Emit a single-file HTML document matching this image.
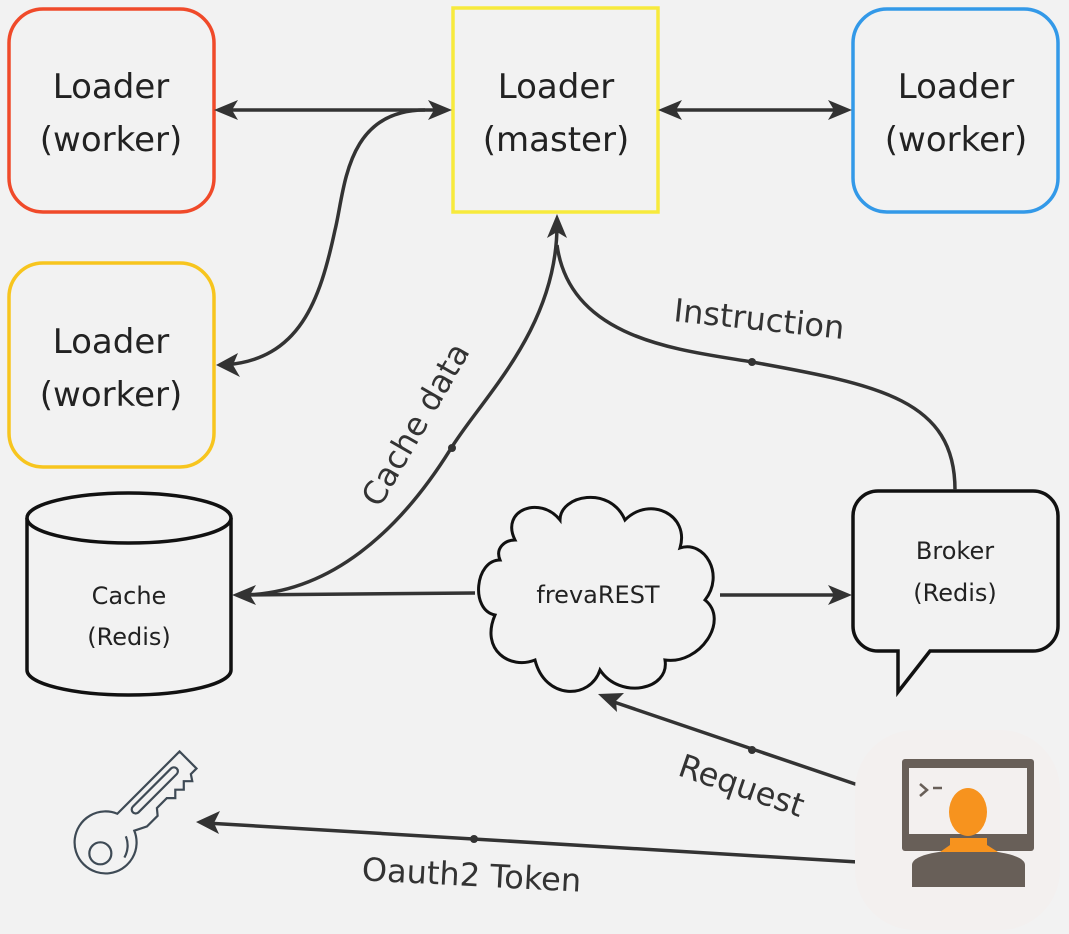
<!DOCTYPE html>
<html><head><meta charset="utf-8"><style>
html,body{margin:0;padding:0;background:#f2f2f2;}
svg{display:block;font-family:"DejaVu Sans","Liberation Sans",sans-serif;}
</style></head><body>
<svg width="1069" height="934" viewBox="0 0 1069 934" xmlns="http://www.w3.org/2000/svg">
<rect width="1069" height="934" fill="#f2f2f2"/>
<g fill="#f2f2f2" stroke-width="3.5">
<rect x="9" y="9" width="205" height="203" rx="34" stroke="#f04a2a"/>
<rect x="453" y="8" width="205" height="204" stroke="#f7ea3c"/>
<rect x="853" y="9" width="205" height="203" rx="34" stroke="#3399e8"/>
<rect x="9" y="263" width="205" height="204" rx="34" stroke="#f7c51e"/>
</g>
<g font-size="34" fill="#222" text-anchor="middle">
<text x="111" y="98">Loader</text><text x="111" y="151">(worker)</text>
<text x="556" y="98">Loader</text><text x="556" y="151">(master)</text>
<text x="956" y="98">Loader</text><text x="956" y="151">(worker)</text>
<text x="111" y="353">Loader</text><text x="111" y="406">(worker)</text>
</g>
<g stroke="#111" stroke-width="3.5" fill="#f2f2f2">
<path d="M27,518 L27,670 A102,25 0 0 0 231,670 L231,518"/>
<ellipse cx="129" cy="518" rx="102" ry="25"/>
</g>
<g font-size="24" fill="#222" text-anchor="middle">
<text x="129" y="604">Cache</text><text x="129" y="645">(Redis)</text>
</g>
<path d="M500,560 C475,560 470,610 495,615 C480,650 510,670 535,660 C545,700 590,700 600,670 C620,700 670,690 665,660 C700,665 730,620 705,600 C725,575 705,540 680,548 C690,515 650,495 625,520 C610,485 560,495 560,520 C540,495 500,510 515,540 C505,540 495,548 500,560 Z" fill="#f2f2f2" stroke="#111" stroke-width="3"/>
<text x="598" y="603" font-size="24" fill="#222" text-anchor="middle">frevaREST</text>
<path d="M878,491 H1033 A25,25 0 0 1 1058,516 V626 A25,25 0 0 1 1033,651 H930 L898,692 L898,651 H878 A25,25 0 0 1 853,626 V516 A25,25 0 0 1 878,491 Z" fill="#f2f2f2" stroke="#111" stroke-width="3.5"/>
<g font-size="24" fill="#222" text-anchor="middle">
<text x="955" y="559">Broker</text><text x="955" y="601">(Redis)</text>
</g>
<g stroke="#333" stroke-width="3.5" fill="none">
<line x1="222" y1="110" x2="444" y2="110"/>
<line x1="666" y1="110" x2="844" y2="110"/>
<path d="M425,110 C345,110 345,190 335,230 C320,300 300,360 224,365"/>
<path d="M557,225 C557,330 480,400 450,450 C400,530 330,595 240,595"/>
<path d="M557,245 C570,340 680,350 752,362 C880,385 955,400 955,490"/>
<line x1="475" y1="593" x2="240" y2="595"/>
<line x1="720" y1="595" x2="842" y2="595"/>
<line x1="858" y1="785" x2="608" y2="700"/>
<line x1="858" y1="862" x2="206" y2="823"/>
</g>
<g fill="#333">
<polygon points="214,110 238,100 232,110 238,120"/>
<polygon points="452,110 428,100 434,110 428,120"/>
<polygon points="658,110 682,100 676,110 682,120"/>
<polygon points="852,110 828,100 834,110 828,120"/>
<polygon points="216,365 238,353 233,365 240,377"/>
<polygon points="557,214 547,238 557,232 567,238"/>
<polygon points="232,595 256,585 250,595 256,605"/>
<polygon points="852,595 828,585 834,595 828,605"/>
<polygon points="598,694 624,693 616,701 617,712"/>
<polygon points="196,822 220,811 214,823 219,834"/>
<circle cx="452" cy="448" r="4"/><circle cx="752" cy="362" r="4"/>
<circle cx="752" cy="750" r="4"/><circle cx="474" cy="839" r="4"/>
</g>
<g font-size="32" fill="#333" text-anchor="middle">
<text transform="translate(425,430) rotate(-60)">Cache data</text>
<text transform="translate(758,330) rotate(6)">Instruction</text>
<text transform="translate(738,796) rotate(19)">Request</text>
<text transform="translate(471,886) rotate(3)">Oauth2 Token</text>
</g>
<rect x="855" y="730" width="205" height="200" rx="60" fill="#f3f0ef"/>
<rect x="902" y="759" width="132" height="92" rx="3" fill="#685f58"/>
<rect x="909" y="768" width="118" height="66" fill="#f3f0ef"/>
<path d="M920,784 L927,790 L920,796" stroke="#685f58" stroke-width="2.5" fill="none"/>
<line x1="933" y1="788" x2="942" y2="788" stroke="#685f58" stroke-width="2.5"/>
<path d="M912,887 L912,865 C912,855 940,850 968,850 C996,850 1025,855 1025,865 L1025,887 Z" fill="#685f58"/>
<path d="M950,838 L950,845 L940,852 L998,852 L987,845 L987,838 Z" fill="#f7931e"/>
<ellipse cx="968" cy="812" rx="19" ry="24" fill="#f7931e"/>
<g stroke="#3e4a55" stroke-width="2.2" fill="none" transform="translate(106,842) rotate(-45)">
<path d="M28,-12 L116,-12 L116,12 L108,12 L104,18 L98,12 L92,18 L86,12 L80,18 L74,12 L60,12 L55,18 L40,18 L28,12 A31,31 0 1 1 28,-12 Z"/>
<rect x="40" y="-6" width="62" height="8" rx="4"/>
<circle cx="-12" cy="4" r="11"/>
<path d="M2,24 A24,24 0 0 0 18,10"/>
</g>
</svg>
</body></html>
